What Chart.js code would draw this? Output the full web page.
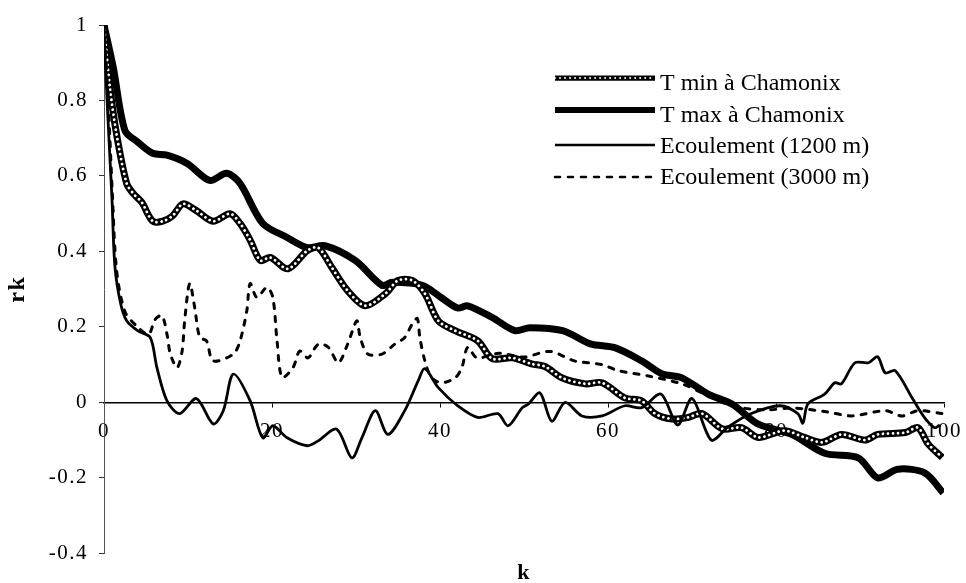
<!DOCTYPE html>
<html>
<head>
<meta charset="utf-8">
<script src="https://cdn.jsdelivr.net/npm/chart.js@4/dist/chart.umd.min.js"></script>
<style>
html,body{margin:0;padding:0;background:#fff;}
canvas{display:block;}
</style>
</head>
<body>
<canvas id="c" width="966" height="583"></canvas>
<script>
// ---- data ----
const seriesNames = ['T min à Chamonix', 'T max à Chamonix', 'Ecoulement (1200 m)', 'Ecoulement (3000 m)'];

const kTmin = [0,0.7,1.5,2.7,3.5,4.5,5.8,7,8.2,9.4,11,13,15,16.2,17.4,18.6,19.8,21.9,24.2,25.5,27.1,29,31.1,33.5,35,36.7,38.2,39.8,41.8,44.5,46.2,48.6,50.9,52.5,54.5,57.3,59.3,62,64,65.6,67.6,69.5,71.2,73.6,75.9,77.9,81,83.4,85.5,87.8,90.6,92.1,95.4,96.9,98.1,99.8];
const tMin = [1.0,0.835,0.71,0.58,0.553,0.53,0.48,0.48,0.495,0.526,0.508,0.48,0.5,0.474,0.43,0.376,0.384,0.354,0.402,0.41,0.358,0.296,0.256,0.288,0.323,0.323,0.288,0.216,0.19,0.163,0.116,0.118,0.102,0.095,0.065,0.049,0.052,0.012,0.004,-0.03,-0.044,-0.04,-0.03,-0.07,-0.067,-0.093,-0.075,-0.093,-0.106,-0.085,-0.1,-0.085,-0.08,-0.067,-0.11,-0.146];

const kTmax = [0,1.1,2.5,4,5.8,7.5,9.9,12.6,14.6,16.2,18.9,21.8,24.2,26.3,29.9,33.1,34.3,37.9,40,42.1,43.3,46.2,48.9,50.7,54.6,57.9,60.8,64,66.4,68.8,71.9,74.8,77.9,81.9,85.8,89.8,92.1,94.5,97.7,99.9];
const tMax = [1.0,0.888,0.72,0.69,0.66,0.655,0.633,0.588,0.607,0.58,0.474,0.437,0.41,0.415,0.376,0.31,0.318,0.31,0.28,0.25,0.256,0.225,0.19,0.198,0.19,0.155,0.145,0.11,0.076,0.065,0.022,-0.005,-0.058,-0.085,-0.135,-0.147,-0.2,-0.177,-0.187,-0.24];

const kE1200 = [0,0.1,0.7,0.95,1.3,2,2.7,4,5.5,6.3,7.5,9,11,13,14.2,15.4,17.4,18.9,20.1,21.8,24.2,25.5,27.7,29.5,30.7,32.3,33.8,35.8,37.4,38.2,39.8,42.1,44.5,46.9,48.1,49.8,50.5,51.9,53.3,54.9,56.9,59.3,62,64,66.3,68.3,70,72.3,74.2,76.9,80.5,82.6,83.2,83.8,85.8,87,87.8,89.4,91,92.1,93,94.2,96.2,97.7,98.9,99.5];
const e1200 = [1,0.925,0.65,0.54,0.36,0.26,0.216,0.19,0.172,0.092,0.004,-0.03,0.01,-0.057,-0.022,0.075,0.004,-0.094,-0.062,-0.094,-0.115,-0.102,-0.071,-0.147,-0.094,-0.022,-0.085,-0.022,0.057,0.089,0.039,-0.009,-0.04,-0.03,-0.062,-0.014,-0.005,0.025,-0.05,0,-0.036,-0.036,-0.009,-0.014,0.022,-0.06,0.01,-0.1,-0.067,-0.031,-0.009,-0.03,-0.055,-0.004,0.022,0.052,0.049,0.105,0.105,0.121,0.078,0.084,0.012,-0.041,-0.067,-0.06];

const kE3000 = [0,0.5,1,1.5,2.5,4,5.3,6.1,6.9,7.5,7.9,8.7,9.3,9.6,10.2,10.8,11.4,12.2,13,15.4,16.2,17,17.4,18.2,19.4,20.1,20.6,21.2,22.5,23.3,24.3,25.5,26.7,27.9,29,30.1,30.5,31.4,33.1,34.6,35.8,36.7,37.3,37.6,38.2,39,40.2,41.8,42.6,43.3,44.4,47,50,53.1,56,59.3,61.2,64.8,68.8,71.2,73.6,76,79,82,86,89,93,95,96.9,99.9];
const e3000 = [1,0.8,0.55,0.35,0.24,0.2,0.18,0.22,0.23,0.18,0.128,0.092,0.136,0.216,0.315,0.251,0.172,0.163,0.11,0.128,0.163,0.243,0.315,0.278,0.305,0.278,0.163,0.066,0.092,0.136,0.118,0.154,0.146,0.105,0.154,0.216,0.172,0.128,0.128,0.154,0.172,0.208,0.222,0.172,0.11,0.065,0.052,0.065,0.092,0.146,0.118,0.13,0.12,0.135,0.11,0.1,0.084,0.07,0.049,0.025,0,-0.015,-0.02,-0.015,-0.025,-0.036,-0.022,-0.036,-0.022,-0.03];

const xTicks = [0, 20, 40, 60, 80, 100];
const yTicks = [-0.4, -0.2, 0, 0.2, 0.4, 0.6, 0.8, 1];
const xTitle = 'k';
const yTitle = 'rk';

// ---- build ----
const pts = (ks, vs) => ks.map((k, i) => ({x: k, y: vs[i]}));
const SERIF = '"Liberation Serif", "Times New Roman", serif';

const datasets = [
  {label: seriesNames[0], data: pts(kTmin, tMin), borderColor: '#000', borderWidth: 7, order: 4, legendRow: 0},
  {label: '', data: pts(kTmin, tMin), borderColor: '#fff', borderWidth: 2.8, borderDash: [0.01, 5], borderCapStyle: 'round', order: 3},
  {label: seriesNames[1], data: pts(kTmax, tMax), borderColor: '#000', borderWidth: 7, order: 5, legendRow: 1},
  {label: seriesNames[2], data: pts(kE1200, e1200), borderColor: '#000', borderWidth: 2.8, order: 1, legendRow: 2},
  {label: seriesNames[3], data: pts(kE3000, e3000), borderColor: '#000', borderWidth: 3, borderDash: [5, 8], borderCapStyle: 'round', order: 2, legendRow: 3}
];

const spacingPlugin = {
  id: 'spacing',
  beforeDraw(chart) { chart.ctx.letterSpacing = '1.5px'; },
  afterDraw(chart) { chart.ctx.letterSpacing = '0px'; }
};

const legendPlugin = {
  id: 'manualLegend',
  afterDraw(chart) {
    const ctx = chart.ctx;
    ctx.save();
    ctx.letterSpacing = '0px';
    const lineY = [78, 110, 145, 177];
    const textY = [84, 116, 147, 178];
    const x0 = 555, x1 = 655, tx = 660;
    ctx.font = '24px ' + SERIF;
    ctx.fillStyle = '#000';
    ctx.textBaseline = 'middle';
    ctx.textAlign = 'left';
    chart.data.datasets.forEach((ds, i) => {
      if (ds.legendRow === undefined) return;
      const r = ds.legendRow;
      const y = lineY[r];
      const drawLine = (d, scale) => {
        ctx.beginPath();
        ctx.strokeStyle = d.borderColor;
        ctx.lineWidth = d.borderWidth * scale;
        ctx.setLineDash(d.borderDash || []);
        ctx.lineCap = d.borderCapStyle || 'butt';
        ctx.moveTo(x0, y); ctx.lineTo(x1, y); ctx.stroke();
      };
      drawLine(ds, i === 0 ? 0.75 : 0.85);
      if (i === 0) drawLine(chart.data.datasets[1], 0.7);
      ctx.setLineDash([]);
      ctx.fillText(ds.label, tx, textY[r]);
    });
    ctx.restore();
  }
};

new Chart(document.getElementById('c'), {
  type: 'line',
  data: {datasets},
  plugins: [spacingPlugin, legendPlugin],
  options: {
    responsive: false,
    animation: false,
    layout: {padding: {left: 0, right: 22, top: 25, bottom: 0}},
    elements: {point: {radius: 0}, line: {tension: 0.3, fill: false}},
    plugins: {
      legend: {display: false},
      tooltip: {enabled: false},
      title: {
        display: true, text: xTitle, position: 'bottom', fullSize: false, color: '#000',
        font: {family: SERIF, size: 22, weight: 'bold', lineHeight: 0.85},
        padding: {top: 11, bottom: 0}
      }
    },
    scales: {
      x: {
        type: 'linear', min: 0, max: 100, position: {y: 0},
        afterFit(s) { s.height = 0; s.paddingLeft = 0; s.paddingRight = 0; },
        afterBuildTicks(s) { s.ticks = xTicks.map(v => ({value: v})); },
        ticks: {color: '#000', font: {family: SERIF, size: 21}, padding: 13, maxRotation: 0, autoSkip: false, callback: v => String(v)},
        grid: {drawOnChartArea: false, drawTicks: true, tickLength: 4, color: '#000'},
        border: {display: true, color: '#000', width: 1.5}
      },
      y: {
        type: 'linear', min: -0.4, max: 1,
        afterFit(s) { s.width = 104; s.paddingTop = 0; s.paddingBottom = 0; },
        afterBuildTicks(s) { s.ticks = yTicks.map(v => ({value: v})); },
        ticks: {color: '#000', font: {family: SERIF, size: 21}, padding: 11, callback: v => String(Math.round(v * 10) / 10)},
        grid: {drawOnChartArea: false, drawTicks: true, tickLength: 5, color: '#333'},
        border: {display: true, color: '#555', width: 1, dash: [8, 3, 2, 3]},
        title: {display: true, text: yTitle, color: '#000', font: {family: SERIF, size: 24, weight: 'bold'}, padding: {top: 3, bottom: 0}}
      }
    }
  }
});
</script>
</body>
</html>
